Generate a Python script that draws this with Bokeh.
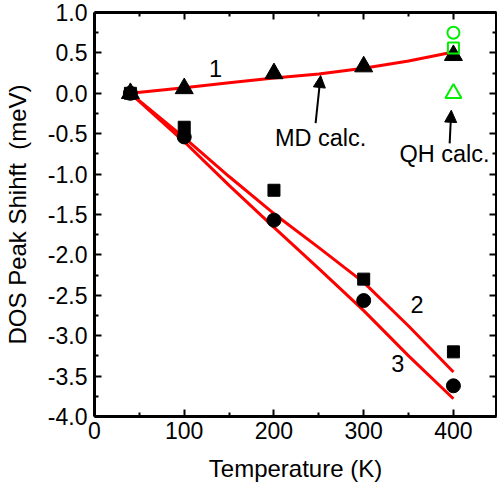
from bokeh.plotting import figure
from bokeh.models import (LinearAxis, Range1d, Label, Arrow, NormalHead, FixedTicker,
                          PrintfTickFormatter, CustomLabelingPolicy)
from bokeh.embed import file_html
from bokeh.resources import INLINE

# measured data points (K, meV)
temp_pts = [40, 100, 200, 300, 400]
shift_1 = [0.0, 0.06, 0.245, 0.33, 0.47]       # triangles
shift_2 = [0.0, -0.42, -1.20, -2.30, -3.20]    # squares
shift_3 = [0.0, -0.54, -1.57, -2.565, -3.62]   # circles

# MD calc. curves
temp_md = [40, 100, 150, 200, 250, 300, 350, 400]
md_1 = [0.0, 0.07, 0.13, 0.19, 0.24, 0.31, 0.40, 0.51]
md_2 = [0.0, -0.55, -1.03, -1.49, -1.91, -2.34, -2.88, -3.45]
md_3 = [0.0, -0.60, -1.14, -1.66, -2.17, -2.69, -3.25, -3.78]

# QH calc. points
temp_qh = [400]
qh_circle = [0.75]
qh_square = [0.56]
qh_triangle = [0.0]

x_ticks = [0, 100, 200, 300, 400]
x_minor = [50, 150, 250, 350, 450]
y_ticks = [1.0, 0.5, 0.0, -0.5, -1.0, -1.5, -2.0, -2.5, -3.0, -3.5, -4.0]
y_minor = [0.75, 0.25, -0.25, -0.75, -1.25, -1.75, -2.25, -2.75, -3.25, -3.75]

FONT = "Liberation Sans"

p = figure(frame_width=402, frame_height=404, output_backend="svg", toolbar_location=None,
           x_range=Range1d(0, 448), y_range=Range1d(-4.0, 1.0),
           min_border_left=89, min_border_right=1, min_border_top=12, min_border_bottom=72)
p.grid.visible = False
p.outline_line_color = None
p.background_fill_color = "white"
p.border_fill_color = "white"

def style_axis(ax, labels=True):
    ax.axis_line_width = 3
    ax.axis_line_color = "black"
    ax.major_tick_in = 7
    ax.major_tick_out = 0
    ax.minor_tick_in = 4
    ax.minor_tick_out = 0
    ax.major_tick_line_width = 2
    ax.minor_tick_line_width = 2
    ax.major_tick_line_color = "black"
    ax.minor_tick_line_color = "black"
    ax.major_label_text_font = FONT
    ax.major_label_text_font_size = "23px" if labels else "0px"
    ax.major_label_text_color = "black"
    ax.axis_label_text_font = FONT
    ax.axis_label_text_font_size = "24px"
    ax.axis_label_text_font_style = "normal"
    ax.axis_label_text_color = "black"
    if not labels:
        ax.major_label_standoff = 0
        ax.major_label_policy = CustomLabelingPolicy(code="return new Set()")

xa = p.xaxis[0]
xa.ticker = FixedTicker(ticks=x_ticks, minor_ticks=x_minor)
xa.axis_label = "Temperature (K)"
style_axis(xa)
xa.major_label_standoff = 5
xa.axis_label_standoff = 13

ya = p.yaxis[0]
ya.ticker = FixedTicker(ticks=y_ticks, minor_ticks=y_minor)
ya.axis_label = "DOS Peak Shihft\u00a0 (meV)"
ya.formatter = PrintfTickFormatter(format="%.1f")
style_axis(ya)
ya.major_label_standoff = 7
ya.axis_label_standoff = 14

ra = LinearAxis(ticker=FixedTicker(ticks=y_ticks, minor_ticks=y_minor))
style_axis(ra, labels=False)
p.add_layout(ra, "right")
ta = LinearAxis(ticker=FixedTicker(ticks=x_ticks, minor_ticks=x_minor))
style_axis(ta, labels=False)
p.add_layout(ta, "above")

# MD curves
for ys in (md_1, md_2, md_3):
    p.line(temp_md, ys, line_color="#ff0000", line_width=3)

# measured points
p.scatter(temp_pts, shift_2, marker="square", size=12, color="black")
p.scatter(temp_pts, shift_3, marker="circle", size=14, color="black")
p.scatter(temp_pts, shift_1, marker="triangle", size=18, color="black")

# QH points
p.scatter(temp_qh, qh_circle, marker="circle", size=12, fill_color=None, line_color="#00ee00", line_width=2)
p.scatter(temp_qh, qh_square, marker="square", size=11, fill_color=None, line_color="#00ee00", line_width=2)
p.scatter(temp_qh, qh_triangle, marker="triangle", size=16, fill_color=None, line_color="#00ee00", line_width=2)

def lab(x, y, t):
    p.add_layout(Label(x=x, y=y, text=t, text_font=FONT, text_font_size="23.5px",
                       text_align="center", text_baseline="middle", text_color="black"))

lab(135, 0.31, "1")
lab(359.5, -2.61, "2")
lab(338, -3.35, "3")
lab(252, -0.55, "MD calc.")
lab(390, -0.75, "QH calc.")

for (x0, y0, x1, y1) in [(246.4, -0.37, 252.0, 0.22), (395.8, -0.62, 397.6, -0.21)]:
    p.add_layout(Arrow(x_start=x0, y_start=y0, x_end=x1, y_end=y1, line_width=2, line_color="black",
                       end=NormalHead(size=12, fill_color="black", line_color="black", line_width=1)))

open("out.html", "w").write(file_html(p, INLINE))
